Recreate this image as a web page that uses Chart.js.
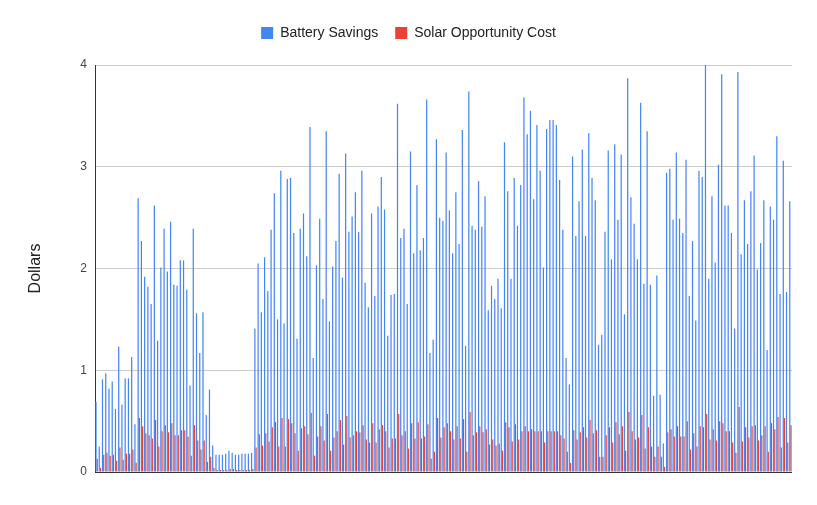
<!DOCTYPE html>
<html>
<head>
<meta charset="utf-8">
<script src="https://cdn.jsdelivr.net/npm/chart.js@4/dist/chart.umd.min.js"></script>
<style>html,body{margin:0;padding:0;background:#fff;}canvas{display:block;}</style>
</head>
<body>
<canvas id="c" width="817" height="505"></canvas>
<script>
const seriesNames = ['Battery Savings', 'Solar Opportunity Cost'];
const yTicks = [0, 1, 2, 3, 4];
const yTitle = 'Dollars';

const batterySavings = [
  0.69,0.25,0.91,0.97,0.82,0.89,0.62,1.23,0.66,0.92,
  0.92,1.13,0.47,2.69,2.27,1.92,1.82,1.65,2.62,1.29,
  2.01,2.39,1.97,2.46,1.84,1.83,2.08,2.08,1.79,0.85,
  2.39,1.56,1.17,1.57,0.56,0.81,0.26,0.17,0.17,0.17,
  0.18,0.21,0.19,0.17,0.17,0.18,0.18,0.18,0.19,1.41,
  2.05,1.57,2.11,1.78,2.38,2.74,1.50,2.96,1.46,2.88,
  2.89,2.35,1.31,2.39,2.54,2.12,3.39,1.12,2.03,2.49,
  1.70,3.35,1.48,2.02,2.27,2.93,1.91,3.13,2.36,2.51,
  2.75,2.36,2.96,1.86,1.62,2.54,1.73,2.61,2.90,2.58,
  1.34,1.74,1.75,3.62,2.30,2.39,1.65,3.15,2.15,2.82,
  2.18,2.30,3.66,1.17,1.30,3.27,2.50,2.47,3.14,2.57,
  2.15,2.75,2.24,3.36,1.24,3.74,2.42,2.38,2.86,2.41,
  2.71,1.59,1.83,1.70,1.90,1.61,3.24,2.76,1.90,2.89,
  2.42,2.82,3.68,3.32,3.55,2.68,3.41,2.96,2.01,3.37,
  3.46,3.46,3.41,2.87,2.38,1.12,0.86,3.10,2.32,2.66,
  3.17,2.32,3.33,2.89,2.67,1.25,1.35,2.36,3.16,2.09,
  3.22,2.48,3.12,1.55,3.87,2.70,2.44,2.09,3.63,1.85,
  3.35,1.84,0.75,1.93,0.76,0.28,2.94,2.98,2.48,3.14,
  2.49,2.35,3.07,1.73,2.27,1.49,2.96,2.90,4.00,1.90,
  2.71,2.06,3.02,3.91,2.62,2.62,2.35,1.41,3.93,2.14,
  2.67,2.24,2.76,3.11,1.99,2.25,2.67,1.20,2.61,2.48,
  3.30,1.75,3.06,1.77,2.66
];

const solarOpportunityCost = [
  0.13,0.04,0.17,0.19,0.16,0.17,0.11,0.24,0.12,0.18,
  0.18,0.22,0.09,0.53,0.45,0.38,0.36,0.33,0.51,0.25,
  0.40,0.46,0.39,0.48,0.36,0.36,0.41,0.41,0.35,0.16,
  0.46,0.31,0.22,0.31,0.10,0.15,0.04,0.02,0.02,0.02,
  0.02,0.03,0.03,0.02,0.02,0.02,0.02,0.02,0.03,0.24,
  0.37,0.26,0.38,0.30,0.44,0.49,0.25,0.53,0.25,0.52,
  0.48,0.38,0.21,0.43,0.45,0.37,0.58,0.16,0.35,0.45,
  0.31,0.57,0.21,0.34,0.40,0.51,0.27,0.55,0.34,0.36,
  0.40,0.39,0.46,0.32,0.29,0.48,0.29,0.42,0.46,0.40,
  0.24,0.33,0.33,0.57,0.36,0.40,0.23,0.48,0.33,0.49,
  0.33,0.35,0.47,0.13,0.20,0.53,0.34,0.44,0.48,0.40,
  0.32,0.45,0.33,0.52,0.20,0.59,0.36,0.39,0.45,0.39,
  0.42,0.27,0.32,0.26,0.28,0.21,0.49,0.44,0.30,0.47,
  0.32,0.40,0.45,0.40,0.42,0.40,0.40,0.40,0.29,0.40,
  0.40,0.40,0.40,0.36,0.33,0.20,0.09,0.41,0.32,0.39,
  0.44,0.34,0.51,0.38,0.41,0.15,0.15,0.36,0.44,0.29,
  0.49,0.37,0.45,0.21,0.59,0.40,0.32,0.34,0.56,0.23,
  0.44,0.25,0.15,0.25,0.15,0.05,0.39,0.42,0.35,0.45,
  0.35,0.35,0.50,0.22,0.38,0.25,0.45,0.44,0.57,0.32,
  0.42,0.31,0.50,0.48,0.40,0.40,0.29,0.19,0.64,0.30,
  0.44,0.34,0.45,0.46,0.31,0.36,0.45,0.20,0.48,0.42,
  0.54,0.24,0.53,0.29,0.46
];

const categories = batterySavings.map((_, i) => String(i + 1));

const FONT = "Arial, 'Liberation Sans', sans-serif";
Chart.defaults.font.family = FONT;

const legendFit = {
  id: 'legendFit',
  beforeInit(chart) {
    const orig = chart.legend.fit;
    chart.legend.fit = function () { orig.call(this); this.height = 56; };
  }
};

new Chart(document.getElementById('c'), {
  type: 'bar',
  data: {
    labels: categories,
    datasets: [
      { label: seriesNames[0], data: batterySavings, backgroundColor: '#4285F4', borderWidth: 0, categoryPercentage: 0.75, barPercentage: 1.0 },
      { label: seriesNames[1], data: solarOpportunityCost, backgroundColor: '#EA4335', borderWidth: 0, categoryPercentage: 0.75, barPercentage: 1.0 }
    ]
  },
  options: {
    responsive: false,
    animation: false,
    layout: { padding: { top: 9, right: 0, bottom: 33, left: 0 } },
    plugins: {
      legend: {
        position: 'top',
        labels: { boxWidth: 12, boxHeight: 12, padding: 17, color: '#222', font: { size: 14, family: FONT } }
      },
      tooltip: { enabled: false }
    },
    scales: {
      x: { display: false },
      y: {
        min: yTicks[0],
        max: yTicks[yTicks.length - 1],
        afterBuildTicks(scale) { scale.ticks = yTicks.map(v => ({ value: v })); },
        ticks: { padding: 8, color: '#444', font: { size: 12, family: FONT } },
        grid: { color: c => (c.tick && c.tick.value === 0 ? '#333' : '#cccccc'), drawTicks: false, lineWidth: 1 },
        border: { display: true, color: '#333', width: 1 },
        title: { display: true, text: yTitle, color: '#222', font: { size: 16, family: FONT }, padding: { top: 26, bottom: 0 } },
        afterFit(scale) { scale.width = 95; }
      },
      yRightSpace: {
        type: 'linear',
        position: 'right',
        display: true,
        min: 0,
        max: 4,
        grid: { display: false, drawTicks: false },
        border: { display: false },
        ticks: { display: false },
        afterFit(scale) { scale.width = 25; }
      }
    }
  },
  plugins: [legendFit]
});
</script>
</body>
</html>
